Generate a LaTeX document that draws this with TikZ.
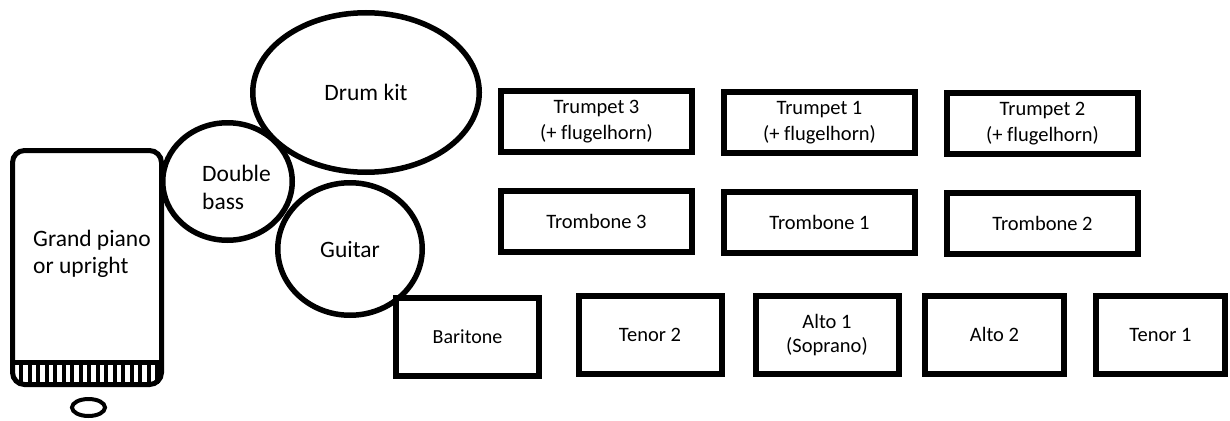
\documentclass[tikz,border=0pt]{standalone}
\usepackage{fontspec}
\setmainfont{Carlito}[Ligatures=CommonOff]
\usetikzlibrary{shapes.geometric, positioning}

\begin{document}
\begin{tikzpicture}[
    x=1pt, y=-1pt,
    rhythm/.style={ellipse, draw=black, line width=5.5pt, inner sep=0pt, align=center, font=\fontsize{23.5}{27}\selectfont},
    textlab/.style={inner sep=0pt, align=left, font=\fontsize{23.5}{27.5}\selectfont},
    horn/.style={rectangle, draw=black, line width=6pt, minimum width=191pt, minimum height=61pt, align=center, font=\fontsize{20.5}{26}\selectfont},
    reed/.style={rectangle, draw=black, line width=6pt, minimum width=143pt, minimum height=78pt, align=center, font=\fontsize{20.5}{24}\selectfont},
    key/.style={line width=4pt}
]
\useasboundingbox (0,0) rectangle (1230,420);

% Piano
\node[rectangle, rounded corners=12pt, draw=black, line width=5pt, minimum width=149pt, minimum height=234pt] (piano) at (87,267.5) {};
\node[textlab, anchor=west] (pianotext) at (33,254) {Grand piano\\or upright};
\draw[line width=5pt] (piano.west |- 0,362) -- (piano.east |- 0,362);
\foreach \k in {0,...,16}
    \draw[key] (21+8.5*\k,362) -- (21+8.5*\k,383.5);

% Piano stool
\node[ellipse, draw=black, line width=4pt, minimum width=33pt, minimum height=17pt, inner sep=0pt] (stool) at (88.5,407.5) {};

% Rhythm section
\node[rhythm, minimum width=226.5pt, minimum height=159.5pt] (drums) at (366,92.5) {Drum kit};
\node[rhythm, minimum width=129.5pt, minimum height=117.5pt] (bass) at (227.5,181.5) {};
\node[textlab] (basstext) at ([xshift=9pt, yshift=-6pt]bass.center) {Double\\bass};
\node[rhythm, minimum width=144.5pt, minimum height=132.5pt] (guitar) at (350,249) {Guitar};

% Trumpets
\node[horn] (trumpet3) at (596.5,121.5) {Trumpet 3\\(+ flugelhorn)};
\node[horn] (trumpet1) at (819.5,122.5) {Trumpet 1\\(+ flugelhorn)};
\node[horn] (trumpet2) at (1042.5,123.5) {Trumpet 2\\(+ flugelhorn)};

% Trombones
\node[horn, below=33pt of trumpet3] (trombone3) {Trombone 3};
\node[horn, below=33pt of trumpet1] (trombone1) {Trombone 1};
\node[horn, below=33pt of trumpet2] (trombone2) {Trombone 2};

% Saxophones
\node[reed, font=\fontsize{20}{24}\selectfont] (baritone) at (467.5,336.5) {Baritone};
\node[reed] (tenor2) at (650,335) {Tenor 2};
\node[reed] (alto1) at (827,335) {Alto 1\\(Soprano)};
\node[reed, minimum width=139pt] (alto2) at (994.5,334.5) {Alto 2};
\node[reed, minimum width=129pt] (tenor1) at (1160.5,335) {Tenor 1};

\end{tikzpicture}
\end{document}
